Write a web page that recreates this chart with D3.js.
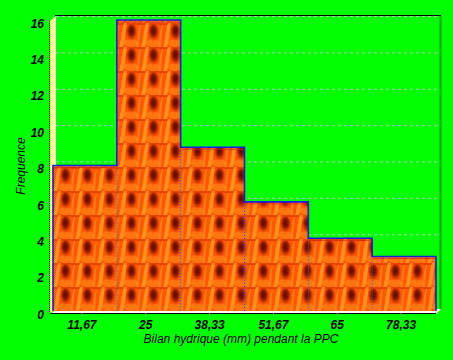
<!DOCTYPE html>
<html><head><meta charset="utf-8">
<script src="https://cdn.jsdelivr.net/npm/d3@7"></script>
<style>html,body{margin:0;padding:0;background:#00FF00;}svg{display:block;}</style>
</head><body>
<script>
const categories = ["11,67","25","38,33","51,67","65","78,33"];
const frequencies = [8,16,9,6,4,3];
const yTicks = [0,2,4,6,8,10,12,14,16];
const xTitle = "Bilan hydrique (mm) pendant la PPC";
const yTitle = "Frequence";

const W = 453, H = 360;
const svg = d3.select("body").append("svg").attr("width", W).attr("height", H);
svg.append("rect").attr("width", W).attr("height", H).attr("fill", "#00FF00");

const x = d3.scaleBand().domain(categories).range([53, 436]).padding(0);
const y = d3.scaleLinear().domain([0, 16]).range([311, 20]);

const defs = svg.append("defs");
const rg = defs.append("radialGradient").attr("id", "drk").attr("cx", "50%").attr("cy", "35%").attr("r", "55%");
rg.append("stop").attr("offset", "0%").attr("stop-color", "#5a0a00");
rg.append("stop").attr("offset", "40%").attr("stop-color", "#8a1800");
rg.append("stop").attr("offset", "75%").attr("stop-color", "#d83a00").attr("stop-opacity", 0.6);
rg.append("stop").attr("offset", "100%").attr("stop-color", "#ff5a00").attr("stop-opacity", 0);
const wg = defs.append("linearGradient").attr("id", "wall").attr("x1", "0").attr("x2", "1");
wg.append("stop").attr("offset", "0%").attr("stop-color", "#ffff70");
wg.append("stop").attr("offset", "100%").attr("stop-color", "#ffffcc");

const tw = 22, th = 24;
const pat = defs.append("pattern").attr("id", "fire").attr("patternUnits", "userSpaceOnUse")
  .attr("width", tw).attr("height", th).attr("x", 53).attr("y", 311);
pat.append("rect").attr("width", tw).attr("height", th).attr("fill", "#ff5800");
pat.append("rect").attr("width", tw).attr("height", 2).attr("fill", "#e84400");
pat.append("ellipse").attr("cx", 12).attr("cy", 20).attr("rx", 7).attr("ry", 4).attr("fill", "#ff8418").attr("opacity", 0.7);
pat.append("path").attr("d", "M0,24 C3,16 2,8 5,0 L8,0 C6,8 7,16 4,24 Z").attr("fill", "#ffa82a").attr("opacity", 0.7);
pat.append("path").attr("d", "M17,24 C19,16 18,9 21,2 L22,3 C20,10 21,17 20,24 Z").attr("fill", "#ff9420").attr("opacity", 0.6);
pat.append("ellipse").attr("cx", 12.5).attr("cy", 11).attr("rx", 6).attr("ry", 10).attr("fill", "url(#drk)");

svg.append("g").selectAll("line").data(yTicks.filter(d => d > 0)).join("line")
  .attr("x1", 56).attr("x2", 440)
  .attr("y1", d => y(d) - 3.5).attr("y2", d => y(d) - 3.5)
  .attr("stroke", "#c8c8c8").attr("stroke-width", 1).attr("stroke-dasharray", "3,3").attr("opacity", 0.9);

svg.append("line").attr("x1", 55).attr("x2", 441).attr("y1", 15.5).attr("y2", 15.5).attr("stroke", "#000").attr("stroke-width", 1);
svg.append("line").attr("x1", 440.5).attr("x2", 440.5).attr("y1", 16).attr("y2", 309).attr("stroke", "#00a800").attr("stroke-width", 2);

svg.append("path").attr("d", `M50,${y(16)+1} L56,16 L56,${y(0)-2} L50,${y(0)+2} Z`).attr("fill", "url(#wall)");
svg.append("line").attr("x1", 49.5).attr("x2", 49.5).attr("y1", y(16)+1).attr("y2", y(0)+2)
  .attr("stroke", "#333").attr("stroke-dasharray", "1,1");

svg.append("path").attr("d", `M51,314 L436,314 L441,309 L56,309 Z`).attr("fill", "#ffffff");

svg.append("g").selectAll("rect").data(frequencies).join("rect")
  .attr("x", (d, i) => x(categories[i])).attr("width", x.bandwidth())
  .attr("y", d => y(d)).attr("height", d => y(0) - y(d))
  .attr("fill", "url(#fire)");

svg.append("g").selectAll("line").data(frequencies).join("line")
  .attr("x1", (d, i) => x(categories[i]) + 1).attr("x2", (d, i) => x(categories[i]) + x.bandwidth() - 1)
  .attr("y1", d => y(d) + 2).attr("y2", d => y(d) + 2)
  .attr("stroke", "#d02020").attr("stroke-width", 1).attr("opacity", 0.7);

svg.append("g").selectAll("line").data(frequencies.slice(1)).join("line")
  .attr("x1", (d, i) => x(categories[i + 1])).attr("x2", (d, i) => x(categories[i + 1]))
  .attr("y1", (d, i) => y(Math.min(d, frequencies[i]))).attr("y2", y(0))
  .attr("stroke", "#4a30d0").attr("stroke-width", 1).attr("stroke-dasharray", "1,2");

let p = `M${x(categories[0])},${y(0)}`;
frequencies.forEach((d, i) => {
  const x0 = x(categories[i]), x1 = x0 + x.bandwidth();
  p += ` L${x0},${y(d)} L${x1},${y(d)}`;
});
p += ` L${x(categories[categories.length-1]) + x.bandwidth()},${y(0)}`;
svg.append("path").attr("d", p).attr("fill", "none").attr("stroke", "#1a1ae0").attr("stroke-width", 1.6);

svg.append("line").attr("x1", 50).attr("x2", 436).attr("y1", 313.5).attr("y2", 313.5).attr("stroke", "#000").attr("stroke-width", 1);

const ya = svg.append("g").attr("transform", "translate(49,0)")
  .call(d3.axisLeft(y).tickValues(yTicks).tickSize(3).tickPadding(2).tickFormat(d3.format("d")));
ya.select(".domain").remove();
ya.selectAll("line").attr("stroke", "#909090");
ya.selectAll("text").attr("dy", "0.6em")
  .style("font-family", "'Liberation Sans', Arial, sans-serif").style("font-size", "12px")
  .style("font-weight", "bold").style("font-style", "italic").attr("fill", "#000");

const xa = svg.append("g").attr("transform", "translate(-3,313)")
  .call(d3.axisBottom(x).tickSize(3).tickSizeOuter(0));
xa.select(".domain").remove();
xa.selectAll("line").attr("stroke", "#909090");
xa.selectAll("text").attr("y", 16).attr("dy", 0)
  .style("font-family", "'Liberation Sans', Arial, sans-serif").style("font-size", "12px")
  .style("font-weight", "bold").style("font-style", "italic").attr("fill", "#000");

svg.append("text").attr("x", 241).attr("y", 343).attr("text-anchor", "middle")
  .style("font-family", "'Liberation Sans', Arial, sans-serif").style("font-size", "12px").style("font-style", "italic")
  .text(xTitle);
svg.append("text").attr("transform", "translate(25,166) rotate(-90)").attr("text-anchor", "middle")
  .style("font-family", "'Liberation Sans', Arial, sans-serif").style("font-size", "12px").style("font-style", "italic")
  .text(yTitle);
</script>
</body></html>
